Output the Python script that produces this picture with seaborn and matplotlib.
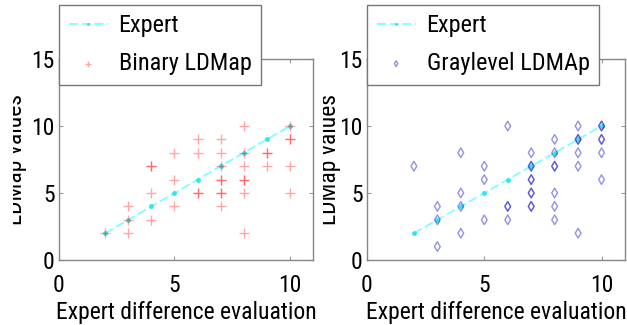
import matplotlib
matplotlib.use('Agg')
import matplotlib.pyplot as plt
import seaborn as sns
import pandas as pd
from matplotlib import font_manager
from matplotlib.transforms import Bbox, TransformedBbox

# expert reference (identity)
expert_x = [2, 3, 4, 5, 6, 7, 8, 9, 10]
expert_y = [2, 3, 4, 5, 6, 7, 8, 9, 10]

# binary LDMap values (repeated pairs show darker)
binary_x = [2, 3, 3, 3, 4, 4, 4, 4, 5, 5, 5, 6, 6, 6, 6,
            7, 7, 7, 7, 7, 7, 7, 7, 8, 8, 8, 8, 8, 8, 8,
            9, 9, 9, 10, 10, 10, 10, 10]
binary_y = [2, 4, 3, 2, 7, 7, 5, 3, 8, 6, 4, 9, 8, 5, 5,
            9, 8, 7, 6, 6, 5, 5, 4, 10, 8, 7, 6, 6, 5, 2,
            8, 8, 7, 10, 9, 9, 7, 5]

# graylevel LDMAp values
gray_x = [2, 3, 3, 3, 4, 4, 4, 4, 5, 5, 5, 6, 6, 6, 6,
          7, 7, 7, 7, 7, 7, 7, 7, 7, 8, 8, 8, 8, 8, 8, 8,
          9, 9, 9, 9, 9, 9, 10, 10, 10, 10, 10, 10]
gray_y = [7, 4, 3, 1, 8, 5, 4, 2, 7, 6, 3, 10, 4, 4, 3,
          8, 7, 7, 6, 6, 5, 5, 4, 4, 9, 8, 7, 7, 5, 4, 3,
          10, 9, 9, 8, 7, 2, 10, 10, 9, 9, 8, 6]

sns.set_theme(style='white')
names = {f.name for f in font_manager.fontManager.ttflist}
fam = 'Roboto Condensed' if 'Roboto Condensed' in names else 'Liberation Sans'
plt.rcParams['font.family'] = [fam, 'DejaVu Sans']
plt.rcParams['text.color'] = 'black'
plt.rcParams['axes.labelcolor'] = 'black'
plt.rcParams['xtick.labelcolor'] = 'black'
plt.rcParams['ytick.labelcolor'] = 'black'
fs = 17

fig = plt.figure(figsize=(6.27, 3.25), dpi=100)
ax1 = fig.add_axes([59 / 627, 65 / 325, 254 / 627, 201 / 325])
ax2 = fig.add_axes([367 / 627, 65 / 325, 258 / 627, 201 / 325])

panels = [
    (ax1, binary_x, binary_y, 'Binary LDMap', '+', (1, 0, 0, 0.35), 13, 27),
    (ax2, gray_x, gray_y, 'Graylevel LDMAp', 'd', (0.15, 0.15, 0.8, 0.5), 323, 341),
]

for ax, xs, ys, name, mk, col, clip_x, lab_x in panels:
    ax.plot(expert_x, expert_y, linestyle='--', dashes=(5, 2), color=(0, 1, 1, 0.5),
            lw=1.3, marker='o', ms=3.5, mfc='#33e5f0', mec='none', label='Expert', zorder=2)
    df = pd.DataFrame({'x': xs, 'y': ys})
    if mk == '+':
        sns.scatterplot(data=df, x='x', y='y', ax=ax, marker='+', s=55, color=col,
                        linewidth=1.0, label=name, zorder=3)
    else:
        sns.scatterplot(data=df, x='x', y='y', ax=ax, marker='d', s=24, facecolor='none',
                        edgecolor=col, linewidth=1.0, label=name, zorder=3)
    ax.set_xlim(0, 11)
    ax.set_ylim(0, 15)
    ax.set_xticks([0, 5, 10])
    ax.set_yticks([0, 5, 10, 15])
    ax.tick_params(direction='in', length=3, width=0.8, color='#999999',
                   labelsize=fs, top=True, right=True, bottom=True, left=True)
    ax.tick_params(axis='x', pad=10)
    ax.tick_params(axis='y', pad=3)
    for sp in ax.spines.values():
        sp.set_color('#888888')
        sp.set_linewidth(1.0)
    ax.set_xlabel('Expert difference evaluation', fontsize=fs, labelpad=3)
    lab = ax.set_ylabel('LDMap values', fontsize=fs)
    x0 = ax.get_position().x0 * 627
    ax.yaxis.set_label_coords(-(x0 - lab_x) / (ax.get_position().width * 627), 0.5)
    lab.set_clip_on(True)
    lab.set_clip_box(TransformedBbox(Bbox([[clip_x / 627, 0], [1, 1]]), fig.transFigure))
    leg = ax.legend(loc='upper left', bbox_to_anchor=(0.0, 1.27), fontsize=17.5,
                    frameon=True, fancybox=False, framealpha=1, edgecolor='#777777',
                    handlelength=1.6, handletextpad=0.45, labelspacing=0.6,
                    borderpad=0.4, borderaxespad=0, markerscale=0.6)
    leg.get_frame().set_linewidth(1.0)
    leg.set_zorder(5)

fig.savefig('out.png', dpi=100)
